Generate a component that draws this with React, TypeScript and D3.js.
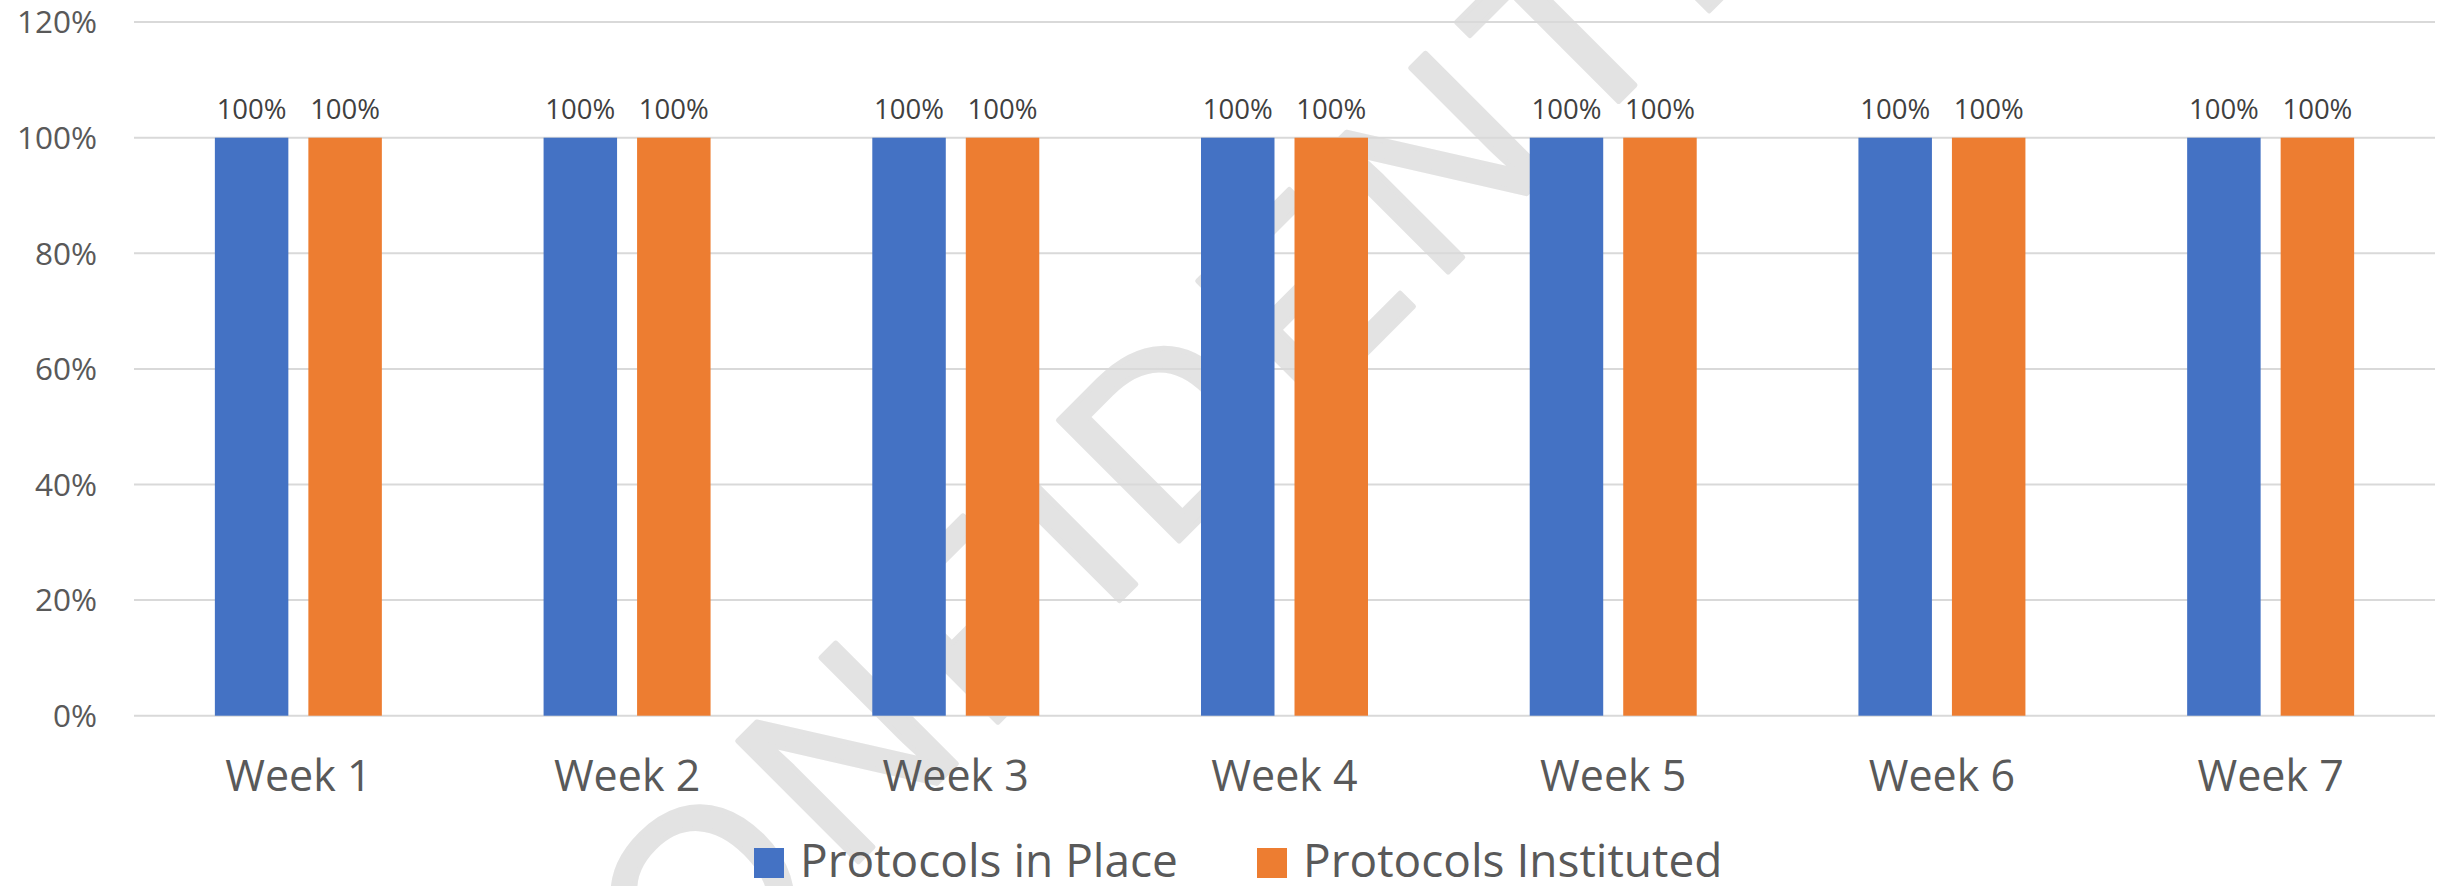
import React from "react";
import * as d3 from "d3";

const weeks = ["Week 1", "Week 2", "Week 3", "Week 4", "Week 5", "Week 6", "Week 7"];
const seriesNames = ["Protocols in Place", "Protocols Instituted"];
const protocolsInPlace = [1, 1, 1, 1, 1, 1, 1];
const protocolsInstituted = [1, 1, 1, 1, 1, 1, 1];
const yTicks = [0, 0.2, 0.4, 0.6, 0.8, 1.0, 1.2];
const colors = ["#4472C4", "#ED7D31"];
const watermarkText = "CONFIDENTIAL";

const W = 2445;
const H = 886;
const plotLeft = 134;
const plotRight = 2435;
const plotTop = 22.1;
const plotBottom = 715.7;

export default function App() {
  const x0 = d3
    .scaleBand<string>()
    .domain(weeks)
    .range([plotLeft, plotRight])
    .paddingInner(0.492)
    .paddingOuter(0.246);
  const x1 = d3
    .scaleBand<string>()
    .domain(seriesNames)
    .range([0, x0.bandwidth()])
    .paddingInner(0.214)
    .paddingOuter(0);
  const y = d3.scaleLinear().domain([0, 1.2]).range([plotBottom, plotTop]);
  const fmt = d3.format(".0%");
  const seriesValues = [protocolsInPlace, protocolsInstituted];
  const font = "'Open Sans', 'Noto Sans', sans-serif";

  const legendX = [754, 1257];

  return (
    <svg
      width={W}
      height={H}
      style={{ position: "absolute", left: 0, top: 0, background: "#fff" }}
    >
      <rect x={0} y={0} width={W} height={H} fill="#ffffff" />
      {/* watermark */}
      <text
        transform="translate(1275,445) rotate(-45)"
        textAnchor="middle"
        fontFamily="'Liberation Sans', Arial, sans-serif"
        fontSize={248}
        letterSpacing={18}
        fill="#e3e3e3"
        stroke="#e3e3e3"
        strokeWidth={5}
        strokeLinejoin="round"
      >
        {watermarkText}
      </text>
      {/* gridlines */}
      {yTicks.map((t) => (
        <line
          key={"g" + t}
          x1={plotLeft}
          x2={plotRight}
          y1={y(t)}
          y2={y(t)}
          stroke="#d9d9d9"
          strokeWidth={2}
        />
      ))}
      {/* y tick labels */}
      {yTicks.map((t) => (
        <text
          key={"yt" + t}
          x={97}
          y={y(t)}
          dy="0.36em"
          textAnchor="end"
          fontFamily={font}
          fontSize={31.5}
          fill="#595959"
        >
          {fmt(t)}
        </text>
      ))}
      {/* bars */}
      {weeks.map((w, i) => (
        <g key={w} transform={`translate(${x0(w)},0)`}>
          {seriesNames.map((s, j) => {
            const v = seriesValues[j][i];
            return (
              <g key={s}>
                <rect
                  x={x1(s)}
                  y={y(v)}
                  width={x1.bandwidth()}
                  height={y(0) - y(v)}
                  fill={colors[j]}
                />
                <text
                  x={(x1(s) as number) + x1.bandwidth() / 2}
                  y={y(v) - 19}
                  textAnchor="middle"
                  fontFamily={font}
                  fontSize={27.5}
                  fill="#404040"
                >
                  {fmt(v)}
                </text>
              </g>
            );
          })}
        </g>
      ))}
      {/* category labels */}
      {weeks.map((w) => (
        <text
          key={"c" + w}
          x={(x0(w) as number) + x0.bandwidth() / 2}
          y={791}
          textAnchor="middle"
          fontFamily={font}
          fontSize={43}
          fill="#595959"
        >
          {w}
        </text>
      ))}
      {/* legend */}
      {seriesNames.map((s, j) => (
        <g key={"l" + s}>
          <rect x={legendX[j]} y={848} width={30} height={30} fill={colors[j]} />
          <text
            x={legendX[j] + 46}
            y={877}
            fontFamily={font}
            fontSize={46}
            fill="#595959"
          >
            {s}
          </text>
        </g>
      ))}
    </svg>
  );
}
